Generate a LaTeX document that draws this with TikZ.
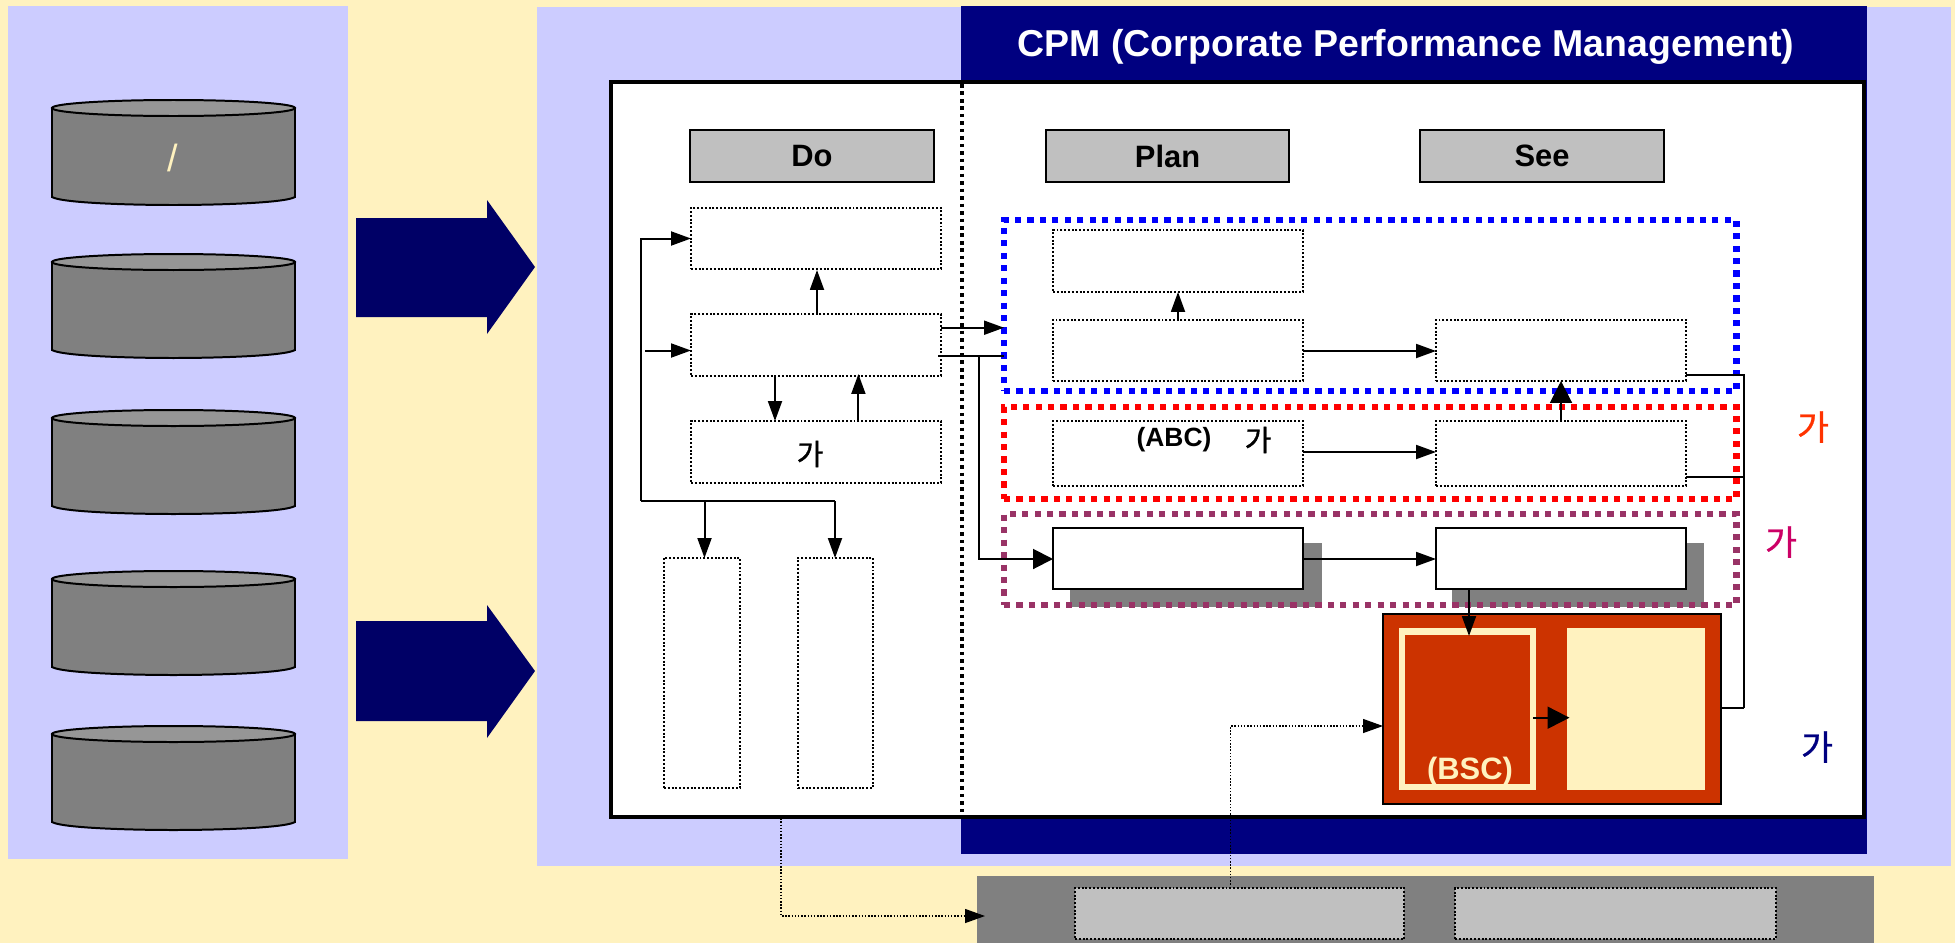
\documentclass[tikz,border=0pt]{standalone}
\usepackage{fontspec}
\setmainfont{Liberation Sans}
\newfontfamily\krfontm[FakeBold=1.4]{Noto Sans CJK KR}
\newfontfamily\krfontl[FakeBold=0.7]{Noto Sans CJK KR}
\usetikzlibrary{arrows.meta}
\definecolor{creamc}{HTML}{FFF2BF}
\definecolor{lavc}{HTML}{CCCCFF}
\definecolor{navyc}{HTML}{000080}
\definecolor{darknavy}{HTML}{000066}
\definecolor{greyd}{HTML}{808080}
\definecolor{greyl}{HTML}{C0C0C0}
\definecolor{greytop}{HTML}{969696}
\definecolor{rustc}{HTML}{CC3300}
\definecolor{plumc}{HTML}{993366}
\definecolor{labred}{HTML}{FF3300}
\definecolor{labmag}{HTML}{CC0066}
\tikzset{
  x=1bp,y=-1bp,
  base/.style={inner sep=0pt,outer sep=0pt,rectangle,align=center},
  headerbox/.style={base,draw=black,line width=2pt,fill=greyl,font=\fontsize{31}{34}\selectfont\bfseries},
  dotbox/.style={base,draw=black,fill=white,line width=2.2pt,dash pattern=on 2pt off 1.8pt},
  solidbox/.style={base,draw=black,fill=white,line width=2pt},
  shadowbox/.style={base,fill=greyd},
  greybox/.style={base,draw=black,fill=greyl,line width=2.2pt,dash pattern=on 2pt off 1.8pt},
  region/.style={base,line width=6.8pt,dash pattern=on 6.2pt off 6.3pt},
  wire/.style={line width=2pt,draw=black},
  thinwire/.style={line width=1.3pt,draw=black,dash pattern=on 1.5pt off 1.7pt},
  heads/.style={-{Triangle[length=20pt,width=14pt]}},
  headm/.style={-{Triangle[length=20pt,width=20pt]}},
  headl/.style={-{Triangle[length=22pt,width=22pt]}},
  krlabel/.style={inner sep=0pt,font=\fontsize{35}{38}\selectfont\krfontl},
  krbold/.style={inner sep=0pt,font=\fontsize{29}{32}\selectfont\krfontm},
  latbold/.style={inner sep=0pt,font=\fontsize{26.5}{30}\selectfont\bfseries},
}
\newcommand{\rectnode}[7]{%
  \node[#2,minimum width={(#5-#3)*1bp},minimum height={(#6-#4)*1bp}] (#1) at ({(#3+#5)/2},{(#4+#6)/2}) {#7};}
\newcommand{\drum}[2]{% top edge y, bottom edge y
  \path[draw=black,line width=2pt,fill=greyd] (52,#1+8) -- (52,#2-8)
     .. controls (62,#2-2) and (130,#2) .. (173.5,#2)
     .. controls (217,#2) and (285,#2-2) .. (295,#2-8) -- (295,#1+8) -- cycle;
  \path[draw=black,line width=2pt,fill=greytop] (173.5,#1+8) ellipse [x radius=121.5,y radius=8];}
\begin{document}
\begin{tikzpicture}
\useasboundingbox (0,0) rectangle (1955,943);
\fill[creamc] (0,0) rectangle (1955,943);
% panels
\rectnode{leftpanel}{base,fill=lavc}{8}{6}{348}{859}{}
\rectnode{rightpanel}{base,fill=lavc}{537}{7}{1951}{866}{}
\rectnode{navyband}{base,fill=navyc}{961}{6}{1867}{854}{}
% drums
\drum{100}{205}
\drum{254}{358}
\drum{410}{514}
\drum{571}{675}
\drum{726}{830}
\node[inner sep=0pt,text=creamc,font=\fontsize{38}{40}\selectfont] (slash) at (173,158) {/};
% block arrows
\fill[darknavy] (356,218) -- (487,218) -- (487,200) -- (535,267) -- (487,334) -- (487,317) -- (356,317) -- cycle;
\fill[darknavy] (356,621) -- (487,621) -- (487,605) -- (535,671) -- (487,738) -- (487,721) -- (356,721) -- cycle;
% title
\node[inner sep=0pt,text=white,font=\fontsize{37.6}{42}\selectfont\bfseries] (title) at (1406,47) {CPM (Corporate Performance Management)};
% main sheet
\rectnode{sheet}{base,draw=black,fill=white,line width=4pt}{611}{82}{1864}{817}{}
% headers
\rectnode{hdo}{headerbox}{690}{130}{934}{182}{\raisebox{-1pt}{Do}}
\rectnode{hplan}{headerbox}{1046}{130}{1289}{182}{\raisebox{-1pt}{Plan}}
\rectnode{hsee}{headerbox}{1420}{130}{1664}{182}{\raisebox{-1pt}{See}}
% shadows
\rectnode{shadowa}{shadowbox}{1070}{543}{1322}{607}{}
\rectnode{shadowb}{shadowbox}{1452}{543}{1704}{607}{}
% Do column
\rectnode{boxa}{dotbox}{691}{208}{941}{269}{}
\rectnode{boxb}{dotbox}{691}{314}{941}{376}{}
\rectnode{boxc}{dotbox}{691}{421}{941}{483}{}
\node[krbold] (labc) at (810,454) {가};
\rectnode{lowa}{dotbox}{664}{558}{740}{788}{}
\rectnode{lowb}{dotbox}{798}{558}{873}{788}{}
% Plan column
\rectnode{pone}{dotbox}{1053}{230}{1303}{292}{}
\rectnode{ptwo}{dotbox}{1053}{320}{1303}{381}{}
\rectnode{pthree}{dotbox}{1053}{421}{1303}{486}{}
\node[latbold] (lababc) at (1174,440) {(ABC)};
\node[krbold] (labp) at (1258,440) {가};
\rectnode{pfour}{solidbox}{1053}{528}{1303}{589}{}
% See column
\rectnode{sone}{dotbox}{1436}{320}{1686}{381}{}
\rectnode{stwo}{dotbox}{1436}{421}{1686}{486}{}
\rectnode{sthree}{solidbox}{1436}{528}{1686}{589}{}
% region frames
\rectnode{regblue}{region,draw=blue}{1004}{220}{1736.5}{391}{}
\rectnode{regred}{region,draw=red}{1004}{407}{1736.5}{499}{}
\rectnode{regplum}{region,draw=plumc}{1004}{514}{1736.5}{605}{}
% divider
\draw[line width=3.2pt,black,dash pattern=on 3.6pt off 3.9pt] (962,84) -- (962,815);
% orange block
\rectnode{orange}{base,draw=black,fill=rustc,line width=2.5pt}{1383}{614}{1721}{804}{}
\rectnode{bscframe}{base,draw=creamc,fill=rustc,line width=6.5pt}{1402}{631.5}{1533}{787}{}
\rectnode{creambox}{base,fill=creamc}{1567}{628}{1705}{790}{}
\node[inner sep=0pt,text=creamc,font=\fontsize{31}{34}\selectfont\bfseries] (bsc) at (1470,772) {(BSC)};
% connectors: Do column
\coordinate (junction) at (641.4,501);
\draw[wire,heads] (junction) |- (boxa.west |- 0,238.5);
\draw[wire] (junction) -- (835,501);
\draw[wire,heads] (704.5,501) -- (lowa.north -| 704.5,0);
\draw[wire,heads] (835,501) -- (lowb.north -| 835,0);
\coordinate (entry) at (645.4,350.5);
\draw[wire,heads] (entry) -- (boxb.west |- entry);
\draw[wire,heads] (boxb.north -| 817,0) -- ([yshift=-1pt]boxa.south -| 817,0);
\draw[wire,heads] (boxb.south -| 775,0) -- (boxc.north -| 775,0);
\draw[wire,heads] (boxc.north -| 858.4,0) -- ([yshift=2pt]boxb.south -| 858.4,0);
% Do to Plan
\draw[wire,heads] (boxb.east |- 0,327.7) -- (regblue.west |- 0,327.7);
\draw[wire] ([xshift=-3pt]boxb.east |- 0,356) -- (regblue.west |- 0,356);
\draw[wire,headm] (979,356) |- (pfour.west |- 0,559);
% Plan column
\draw[wire,heads] (ptwo.north -| 1178,0) -- (pone.south -| 1178,0);
\draw[wire,heads] (ptwo.east |- 0,351) -- (sone.west |- 0,351);
\draw[wire,heads] (pthree.east |- 0,452) -- (stwo.west |- 0,452);
\draw[wire,heads] (pfour.east |- 0,559) -- (sthree.west |- 0,559);
\draw[wire,headl] (stwo.north -| 1561,0) -- (sone.south -| 1561,0);
\draw[wire,heads] (sthree.south -| 1469,0) -- (1469,636);
% bus
\coordinate (busfoot) at (1743.6,708);
\draw[wire] (sone.east |- 0,375) -| (busfoot);
\draw[wire] (stwo.east |- 0,476.7) -- (busfoot |- 0,476.7);
\draw[wire] (orange.east |- busfoot) -- (busfoot);
\draw[wire,headl] (bscframe.east |- 0,717.7) -- ([xshift=2.5pt]creambox.west |- 0,717.7);
% labels
\node[krlabel,text=labred] (labred) at (1813,427) {가};
\node[krlabel,text=labmag] (labmag) at (1781,542) {가};
\node[krlabel,text=navyc] (labnavy) at (1817,747) {가};
% bottom bar
\rectnode{bar}{shadowbox}{977}{876}{1874}{943}{}
\rectnode{barone}{greybox}{1075}{888}{1404}{939}{}
\rectnode{bartwo}{greybox}{1455}{888}{1776}{939}{}
% dotted connectors
\coordinate (dostart) at (781,815);
\draw[thinwire,heads] (dostart) |- (985,916);
\draw[thinwire,heads] (barone.north -| 1230.6,0) |- (orange.west |- 0,726);
\end{tikzpicture}
\end{document}
